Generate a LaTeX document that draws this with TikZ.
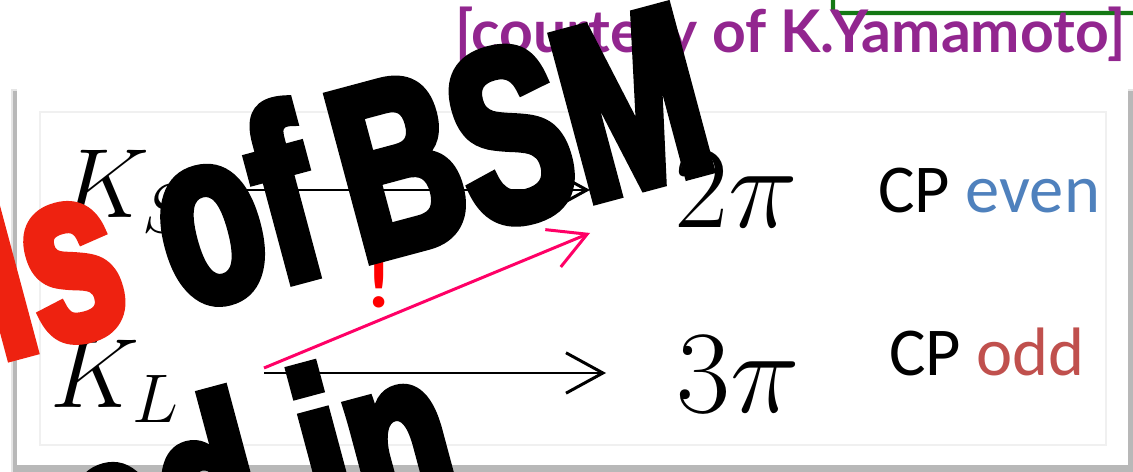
\RequirePackage{fix-cm}
\documentclass[tikz,border=0pt]{standalone}
\usepackage{fontspec}
\usepackage{xcolor}
\usepackage{tikz}
\usetikzlibrary{arrows.meta}

\newfontfamily\calfont{Carlito}
\newfontfamily\comicfont{Lato}
\newfontfamily\bigfont{Liberation Sans}[BoldFeatures={FakeStretch=0.68,FakeBold=4}]

\definecolor{cpblue}{RGB}{79,129,189}
\definecolor{cpred}{RGB}{192,80,77}
\definecolor{notepurple}{RGB}{146,38,143}
\definecolor{markpink}{RGB}{255,0,102}
\definecolor{bigred}{RGB}{238,34,16}
\definecolor{framegreen}{RGB}{20,120,20}

\begin{document}
\begin{tikzpicture}[x=0.02cm, y=-0.02cm,
  particle/.style={inner sep=0pt, font=\fontsize{56}{60}\selectfont},
  pions/.style={inner sep=0pt, font=\fontsize{67}{70}\selectfont},
  cplabel/.style={inner sep=0pt, font=\calfont\fontsize{39}{41}\selectfont},
  decayarrow/.style={line width=1.7pt, -{Straight Barb[length=21pt,width=23pt]}},
  bigword/.style={inner sep=0pt, transform shape, font=\bigfont\bfseries\fontsize{140}{144}\selectfont}]
  \useasboundingbox (0,0) rectangle (1133,472);
  \clip (0,0) rectangle (1133,472);
  % slide frame with its shadow
  \fill[black!10] (11,89) rectangle (1135,474);
  \fill[black!28] (13,91) rectangle (1133,472);
  \fill[white] (17,87) rectangle (1128,465);
  \draw[black!6, line width=1pt] (40,112) rectangle (1106,445);
  % corner of the green box above
  \draw[framegreen, line width=2.3pt, rounded corners=2pt] (833,-10) -- (833,13) -- (1140,13);
  \node[text=notepurple, inner sep=0pt, font=\comicfont\bfseries\fontsize{33.5}{35}\selectfont, anchor=base] (credit) at (790,53) {[courtesy of K.Yamamoto]};

  \node[particle, anchor=base west] (ks) at (60,218) {$K_S$};
  \node[particle, anchor=base west] (kl) at (50,408) {$K_L$};
  \node[pions, anchor=base west] (twopi) at (674,228) {$2\pi$};
  \node[pions, anchor=base west] (threepi) at (676,413) {$3\pi$};
  \node[cplabel, anchor=base west] (even) at (878,213) {CP \textcolor{cpblue}{even}};
  \node[cplabel, anchor=base west] (odd) at (889,376) {CP \textcolor{cpred}{odd}};

  \coordinate (ksout) at (245,190);
  \coordinate (ksin) at (590,190);
  \coordinate (klout) at (264,373);
  \coordinate (klin) at (606,373);
  \coordinate (klmix) at (264,368);
  \coordinate (cpv) at (590,233);
  \draw[decayarrow] (ksout) -- (ksin);
  \draw[decayarrow] (klout) -- (klin);
  \draw[decayarrow, markpink] (klmix) -- (cpv);
  \node[text=red, inner sep=0pt, font=\calfont\bfseries\fontsize{44}{46}\selectfont, anchor=base] (bang) at (379,308) {!};

  % the big slanted title on top
  \begin{scope}[shift={(372,260)}, rotate=15]
    \node[bigword, text=bigred, anchor=base east] (ls) at (-245,0) {ls};
    \node[bigword, anchor=base west] (of) at (-199,0) {of};
    \node[bigword, anchor=base west] (bsm) at (-11,0) {BSM};
    \node[bigword, anchor=base east] (edin) at (30,264) {ed in};
  \end{scope}
\end{tikzpicture}
\end{document}
